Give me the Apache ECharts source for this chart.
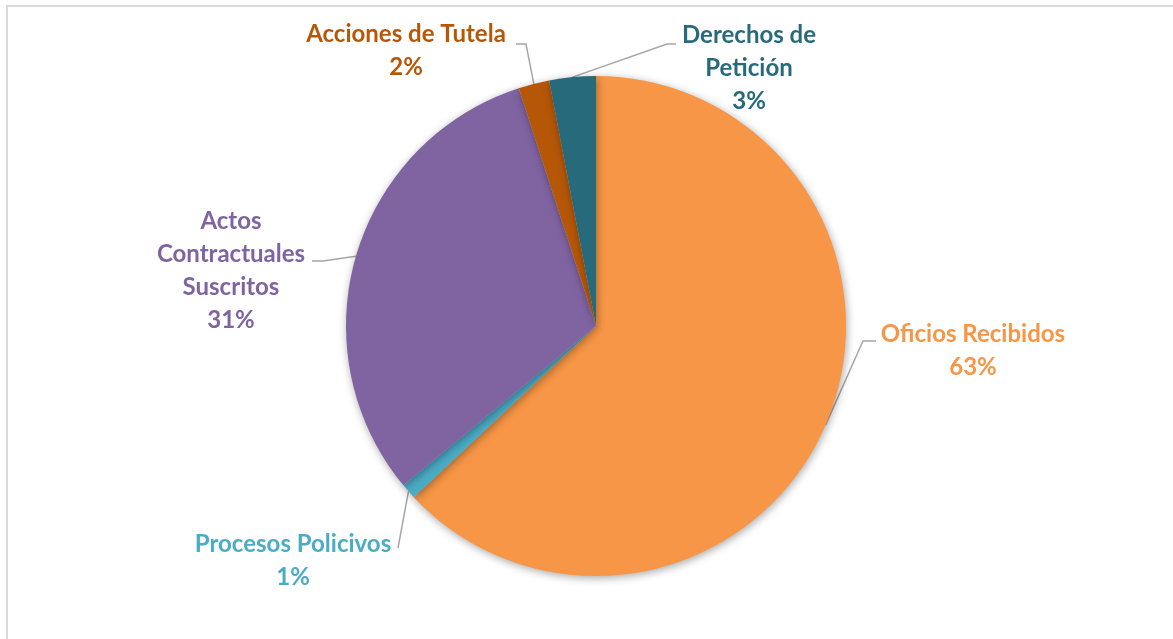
<!DOCTYPE html>
<html>
<head>
<meta charset="utf-8">
<script src="https://cdn.jsdelivr.net/npm/echarts@6/dist/echarts.min.js"></script>
<style>
  html, body { margin: 0; padding: 0; background: #ffffff; }
  #chart { width: 1173px; height: 639px; }
</style>
</head>
<body>
<div id="chart"></div>
<script>
// Categories, clockwise from 12 o'clock
const categories = [
  'Oficios Recibidos',
  'Procesos Policivos',
  'Actos\nContractuales\nSuscritos',
  'Acciones de Tutela',
  'Derechos de\nPetición'
];
// Share of each category (%)
const values = [63, 1, 31, 2, 3];
const colors = ['#F79646', '#4BACC6', '#8064A2', '#B65708', '#276A7C'];

// Where each label block sits and how its leader line bends
const labelPlacement = [
  { x: 973, y: 351, elbow: [863, 341], end: [876, 341] },
  { x: 293, y: 561, elbow: [398, 548], end: [398, 548] },
  { x: 231, y: 271, elbow: [323, 261], end: [312, 261] },
  { x: 406, y: 51,  elbow: [526, 44],  end: [516, 44] },
  { x: 749, y: 68,  elbow: [667, 44],  end: [676, 44] }
];

const chart = echarts.init(document.getElementById('chart'), null, { renderer: 'canvas' });

const pieData = categories.map((name, i) => ({
  name: name,
  value: values[i],
  itemStyle: { color: colors[i] },
  label: { color: colors[i] }
}));

chart.setOption({
  backgroundColor: '#ffffff',
  animation: false,
  graphic: [{
    type: 'rect',
    shape: { x: 7, y: 6, width: 1400, height: 900 },
    style: { fill: 'none', stroke: '#d9d9d9', lineWidth: 2 },
    silent: true
  }],
  series: [{
    type: 'pie',
    center: [596, 326],
    radius: 250,
    startAngle: 90,
    clockwise: true,
    data: pieData,
    itemStyle: {
      borderWidth: 0,
      shadowBlur: 9,
      shadowColor: 'rgba(0,0,0,0.35)',
      shadowOffsetX: 1,
      shadowOffsetY: 2
    },
    label: {
      show: true,
      position: 'outside',
      formatter: '{b}\n{d}%',
      fontFamily: 'Lato',
      fontWeight: 'bold',
      fontSize: 24,
      lineHeight: 33,
      align: 'center'
    },
    labelLine: {
      show: true,
      length: 20,
      length2: 10,
      lineStyle: { color: '#a6a6a6', width: 1.5 }
    },
    labelLayout: function (params) {
      const p = labelPlacement[params.dataIndex];
      const start = params.labelLinePoints ? params.labelLinePoints[0] : p.elbow;
      return {
        x: p.x,
        y: p.y,
        align: 'center',
        verticalAlign: 'middle',
        labelLinePoints: [start, p.elbow, p.end]
      };
    },
    emphasis: { disabled: true }
  }]
});
</script>
</body>
</html>
